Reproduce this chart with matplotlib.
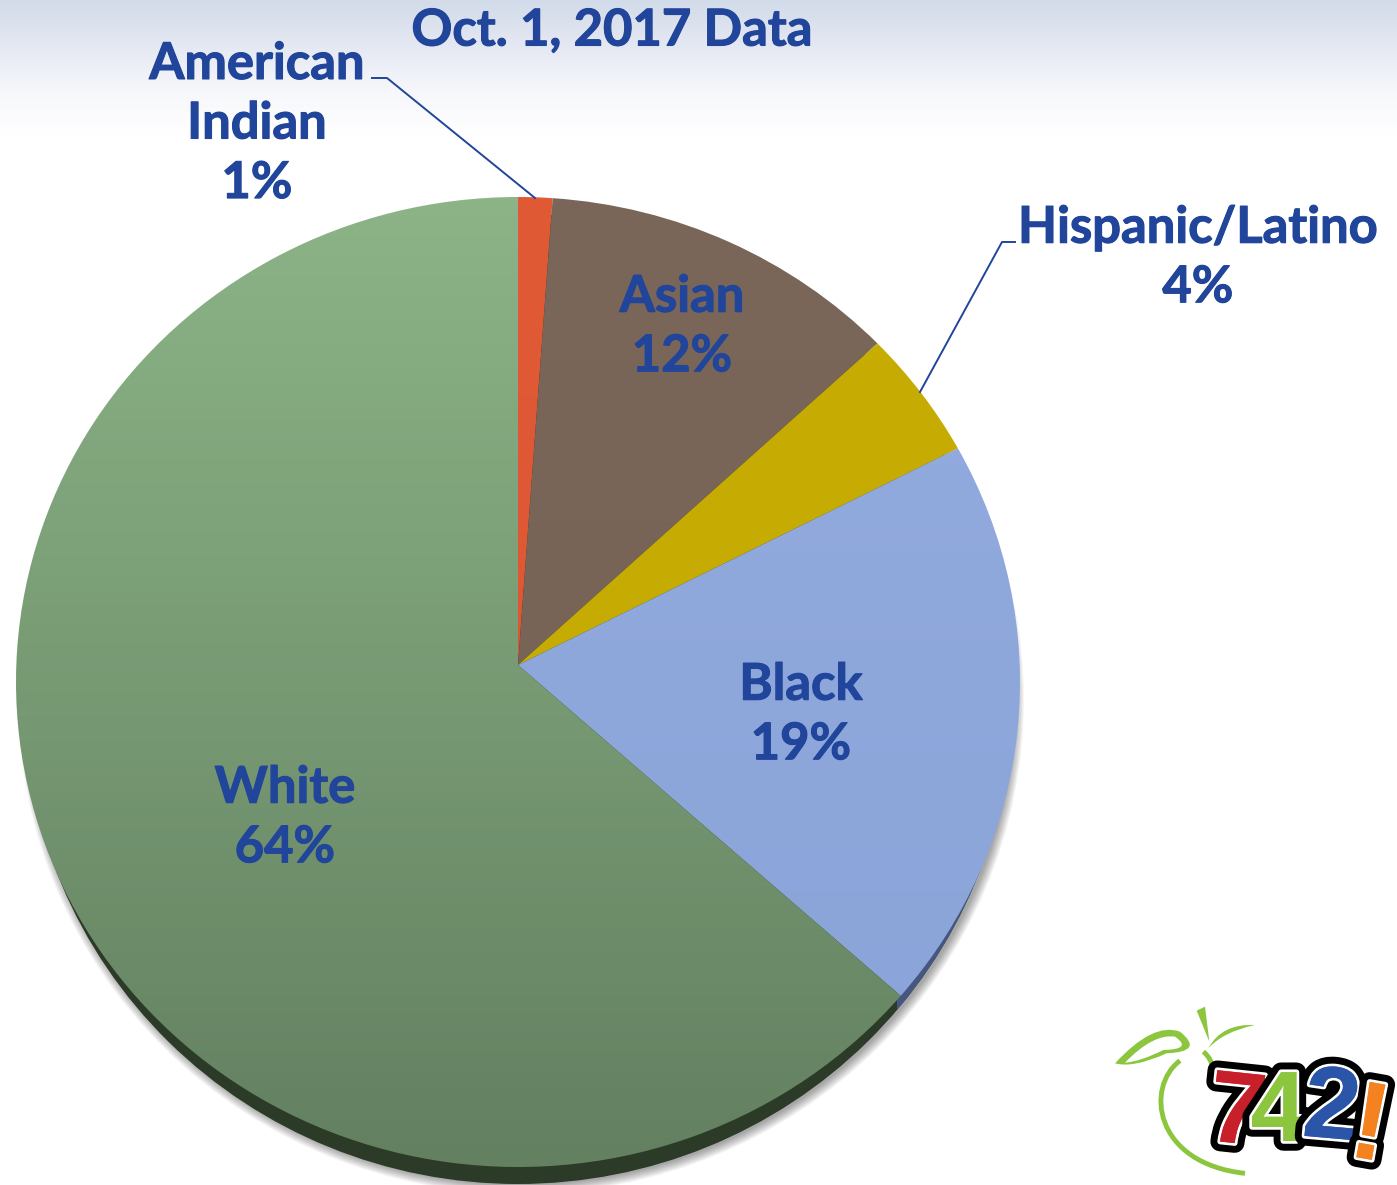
#!/usr/bin/env python3
"""
Pie chart of student groups, Oct. 1, 2017 data
"""
import numpy as np
import matplotlib
matplotlib.use('Agg')
import matplotlib.pyplot as plt
import matplotlib.patheffects as pe
from matplotlib.colors import LinearSegmentedColormap
from matplotlib.patches import Ellipse, PathPatch
from matplotlib.path import Path

plt.rcParams['font.family'] = ['Lato', 'DejaVu Sans']

W, H = 1397, 1185

# Data, clockwise from the top
groups = ['American Indian', 'Asian', 'Hispanic/Latino', 'Black', 'White']
shares = [1.1, 11.6, 4.3, 19.2, 63.8]
share_labels = ['1%', '12%', '4%', '19%', '64%']
top_colors = ['#E05A36', '#7A6759', '#C8AE02', '#94ACDF', '#8CB487']
bottom_colors = ['#DC5533', '#746154', '#C2A803', '#89A3D8', '#638060']
title = 'Oct. 1, 2017 Data'
TEXT = '#21459A'


def flip(y):
    return H - y


fig = plt.figure(figsize=(W / 100, H / 100), dpi=100)
ax = fig.add_axes([0, 0, 1, 1])

# pale blue band at the top of the slide
band = np.linspace(0, 1, 200).reshape(-1, 1)
band_cmap = LinearSegmentedColormap.from_list('band', ['#D2DBE9', '#E4E8F2', '#F6F7FB', '#FFFFFF'])
ax.imshow(band, cmap=band_cmap, extent=[0, W, flip(135), H], aspect='auto', zorder=0)

# Pie geometry: the rim is an ellipse, the apex sits a bit above its centre
cx, cy = 518, flip(682)
rx, ry = 502, 485
apex = (518, flip(665))
depth = 17
side_inset = 8

# soft shadow, only shows on the lower right
for i in range(10):
    ax.add_patch(Ellipse((cx + 3, cy - depth - 1), 2 * (rx - side_inset) + 2 * i, 2 * ry + 2 * i,
                         fc='#000000', alpha=0.04, ec='none', zorder=1))

wedges, _ = ax.pie(shares, startangle=90, counterclock=False)

paths = []
for w in wedges:
    p = w.get_path().transformed(w.get_patch_transform())
    v = p.vertices.copy()
    at_apex = np.hypot(v[:, 0], v[:, 1]) < 1e-6
    v[:, 0] = cx + rx * v[:, 0]
    v[:, 1] = cy + ry * v[:, 1]
    v[at_apex] = apex
    paths.append(Path(v, p.codes))
    w.remove()

# extruded side of the pie
side = Ellipse((cx, cy - depth), 2 * (rx - side_inset), 2 * ry, fc='#2C3A28', ec='none', zorder=2)
ax.add_patch(side)
blue_side = Ellipse((cx, cy - depth), 2 * (rx - side_inset), 2 * ry, fc='#46577F', ec='none', zorder=2.1)
ax.add_patch(blue_side)
blue_side.set_clip_path(plt.Rectangle((897, 0), 200, H, transform=ax.transData))

# top surface with vertical gradient per slice
for path, c0, c1 in zip(paths, top_colors, bottom_colors):
    cmap = LinearSegmentedColormap.from_list('s', [c0, c1])
    im = ax.imshow(band, cmap=cmap, extent=[cx - rx, cx + rx, cy - ry, cy + ry],
                   aspect='auto', zorder=3)
    patch = PathPatch(path, fc='none', ec='none', transform=ax.transData)
    ax.add_patch(patch)
    im.set_clip_path(patch)

# labels, thin stroke to get closer to the heavier original face
label_style = dict(color=TEXT, fontsize=36.5, fontweight='bold', ha='center', va='center',
                   linespacing=1.33, zorder=6,
                   path_effects=[pe.withStroke(linewidth=0.8, foreground=TEXT)])
ax.text(257, flip(124), 'American\nIndian\n' + share_labels[0], **label_style)
ax.text(682, flip(327), groups[1] + '\n' + share_labels[1], **label_style)
ax.text(1198, flip(258), groups[2] + '\n' + share_labels[2], **label_style)
ax.text(801, flip(715), groups[3] + '\n' + share_labels[3], **label_style)
ax.text(285, flip(818), groups[4] + '\n' + share_labels[4], **label_style)
ax.text(612, flip(31), title, **label_style)

# leader lines
ax.plot([372, 387, 535], [flip(78), flip(78), flip(198)], color=TEXT, lw=1.4, zorder=5)
ax.plot([1015, 1002, 920], [flip(242), flip(242), flip(392)], color=TEXT, lw=1.4, zorder=5)

# 742! logo, peach outline
GREEN = '#8CC63F'
LX, LY = 1090, 990


def logo(points):
    return [(LX + x / 3, flip(LY + y / 3)) for x, y in points]


C3 = Path.CURVE3
C4 = Path.CURVE4
M = Path.MOVETO
leaf = Path(logo([(75, 220), (190, 95), (270, 125), (345, 185), (230, 190), (130, 235), (75, 220)]),
            [M, C3, C3, C3, C3, C3, C3])
stem = Path(logo([(320, 62), (345, 50), (358, 155), (320, 62)]), [M, Path.LINETO, Path.LINETO, Path.CLOSEPOLY])
right_leaf = Path(logo([(355, 175), (395, 100), (495, 105), (400, 125), (355, 175)]), [M, C3, C3, C3, C3])
ax.add_patch(PathPatch(leaf, fc=GREEN, ec='none', zorder=7))
ax.add_patch(PathPatch(Path(logo([(105, 218), (190, 130), (255, 140), (310, 178), (220, 180), (150, 215), (105, 218)]),
                            [M, C3, C3, C3, C3, C3, C3]), fc='white', ec='none', zorder=7.1))
ax.add_patch(PathPatch(stem, fc=GREEN, ec='none', zorder=7))
ax.add_patch(PathPatch(right_leaf, fc=GREEN, ec='none', zorder=7))
arc = Path(logo([(270, 212), (165, 290), (190, 520), (465, 550)]), [M, C4, C4, C4])
ax.add_patch(PathPatch(arc, fc='none', ec=GREEN, lw=3.5, zorder=7))
ax.add_patch(PathPatch(Path(logo([(340, 185), (365, 205), (370, 240)]), [M, C3, C3]),
                       fc='none', ec=GREEN, lw=3.5, zorder=7))

logo_chars = ['7', '4', '2', '!']
logo_colors = ['#C8202B', '#8CC63F', '#2A55A8', '#F58220']
logo_x = [440, 565, 725, 838]
logo_y = [380, 375, 365, 420]
logo_rot = [-6, 0, -5, -10]
logo_size = [74, 72, 74, 80]
for order, (ch, col, x, y, rot, size) in enumerate(zip(logo_chars, logo_colors, logo_x, logo_y, logo_rot, logo_size)):
    ax.text(LX + x / 3, flip(LY + y / 3), ch, color=col, fontsize=size, fontweight='bold',
            family='Liberation Sans', ha='center', va='center', rotation=rot,
            zorder=8 + order * 0.1, clip_on=False,
            path_effects=[pe.withStroke(linewidth=14, foreground='black'),
                          pe.withStroke(linewidth=4, foreground='white'),
                          pe.Normal()])

ax.set_xlim(0, W)
ax.set_ylim(0, H)
ax.set_aspect('auto')
ax.axis('off')
fig.savefig('out.png', dpi=100, facecolor='white')
